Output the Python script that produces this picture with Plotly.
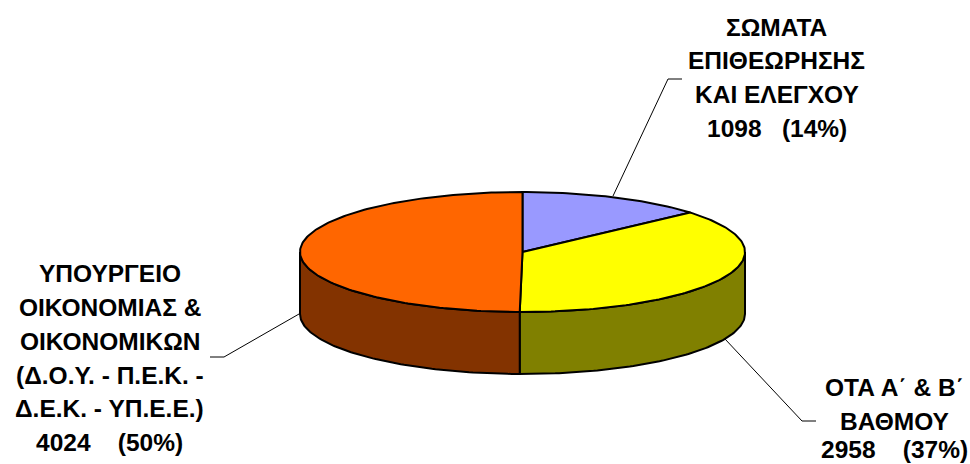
import numpy as np
import plotly.graph_objects as go

categories = ["ΣΩΜΑΤΑ ΕΠΙΘΕΩΡΗΣΗΣ ΚΑΙ ΕΛΕΓΧΟΥ", "ΟΤΑ Α΄ & Β΄ ΒΑΘΜΟΥ",
              "ΥΠΟΥΡΓΕΙΟ ΟΙΚΟΝΟΜΙΑΣ & ΟΙΚΟΝΟΜΙΚΩΝ (Δ.Ο.Υ. - Π.Ε.Κ. - Δ.Ε.Κ. - ΥΠ.Ε.Ε.)"]
values = [1098, 2958, 4024]
top_colors = ["#9999FF", "#FFFF00", "#FF6600"]
side_colors = ["#4D4D80", "#808000", "#833300"]
label_lines = [
    ["ΣΩΜΑΤΑ", "ΕΠΙΘΕΩΡΗΣΗΣ", "ΚΑΙ ΕΛΕΓΧΟΥ", "1098   (14%)"],
    ["ΟΤΑ Α΄ & Β΄", "ΒΑΘΜΟΥ", "2958    (37%)"],
    ["ΥΠΟΥΡΓΕΙΟ", "ΟΙΚΟΝΟΜΙΑΣ &", "ΟΙΚΟΝΟΜΙΚΩΝ", "(Δ.Ο.Υ. - Π.Ε.Κ. -", "Δ.Ε.Κ. - ΥΠ.Ε.Ε.)", "4024    (50%)"],
]
label_x = [776.5, 894, 109.5]
label_y = [[27, 60, 94, 128], [387, 421, 449], [273, 307, 341, 375, 408, 442]]
leaders = [[(613, 196), (668, 79), (682, 79)],
           [(725, 339), (802, 421), (816, 421)],
           [(299, 314), (224, 357), (210, 357)]]

CX, CY, RX, RY, DEPTH = 522.5, 252, 222.5, 60, 62
TAU = 2 * np.pi


def arc(f0, f1, dy=0.0):
    t = np.linspace(f0, f1, max(2, int((f1 - f0) * 360))) * TAU
    return CX + RX * np.sin(t), CY - RY * np.cos(t) + dy


fractions = np.array(values) / sum(values)
edges = np.concatenate([[0], np.cumsum(fractions)])

fig = go.Figure()


def poly(x, y, color):
    fig.add_trace(go.Scatter(x=x, y=y, mode="lines", fill="toself", fillcolor=color,
                             line=dict(color="black", width=2), hoverinfo="skip", showlegend=False))


# side walls: only the visible front half of the pie
for i in range(3):
    f0, f1 = max(edges[i], 0.25), min(edges[i + 1], 0.75)
    if f1 <= f0:
        continue
    xt, yt = arc(f0, f1)
    xb, yb = arc(f0, f1, DEPTH)
    poly(np.r_[xt, xb[::-1], xt[0]], np.r_[yt, yb[::-1], yt[0]], side_colors[i])

# top face
for i in range(3):
    xa, ya = arc(edges[i], edges[i + 1])
    poly(np.r_[CX, xa, CX], np.r_[CY, ya, CY], top_colors[i])

# leader lines
for pts in leaders:
    fig.add_trace(go.Scatter(x=[p[0] for p in pts], y=[p[1] for p in pts], mode="lines",
                             line=dict(color="black", width=1), hoverinfo="skip", showlegend=False))

annotations = []
for lines, x, ys in zip(label_lines, label_x, label_y):
    for line, y in zip(lines, ys):
        annotations.append(dict(x=x, y=y, text="<b>" + line.replace("   ", "&nbsp;&nbsp;&nbsp;") + "</b>",
                                showarrow=False, xanchor="center", yanchor="middle", xref="x", yref="y",
                                font=dict(family="Liberation Sans", size=24.5, color="black")))

fig.update_layout(
    width=970, height=464, margin=dict(l=0, r=0, t=0, b=0),
    paper_bgcolor="white", plot_bgcolor="white", showlegend=False,
    xaxis=dict(range=[0, 970], visible=False, fixedrange=True),
    yaxis=dict(range=[464, 0], visible=False, fixedrange=True),
    annotations=annotations,
)
fig.write_html("out.html", config={"displayModeBar": False},
               post_script="document.body.style.margin='0';document.body.style.overflow='hidden';")
